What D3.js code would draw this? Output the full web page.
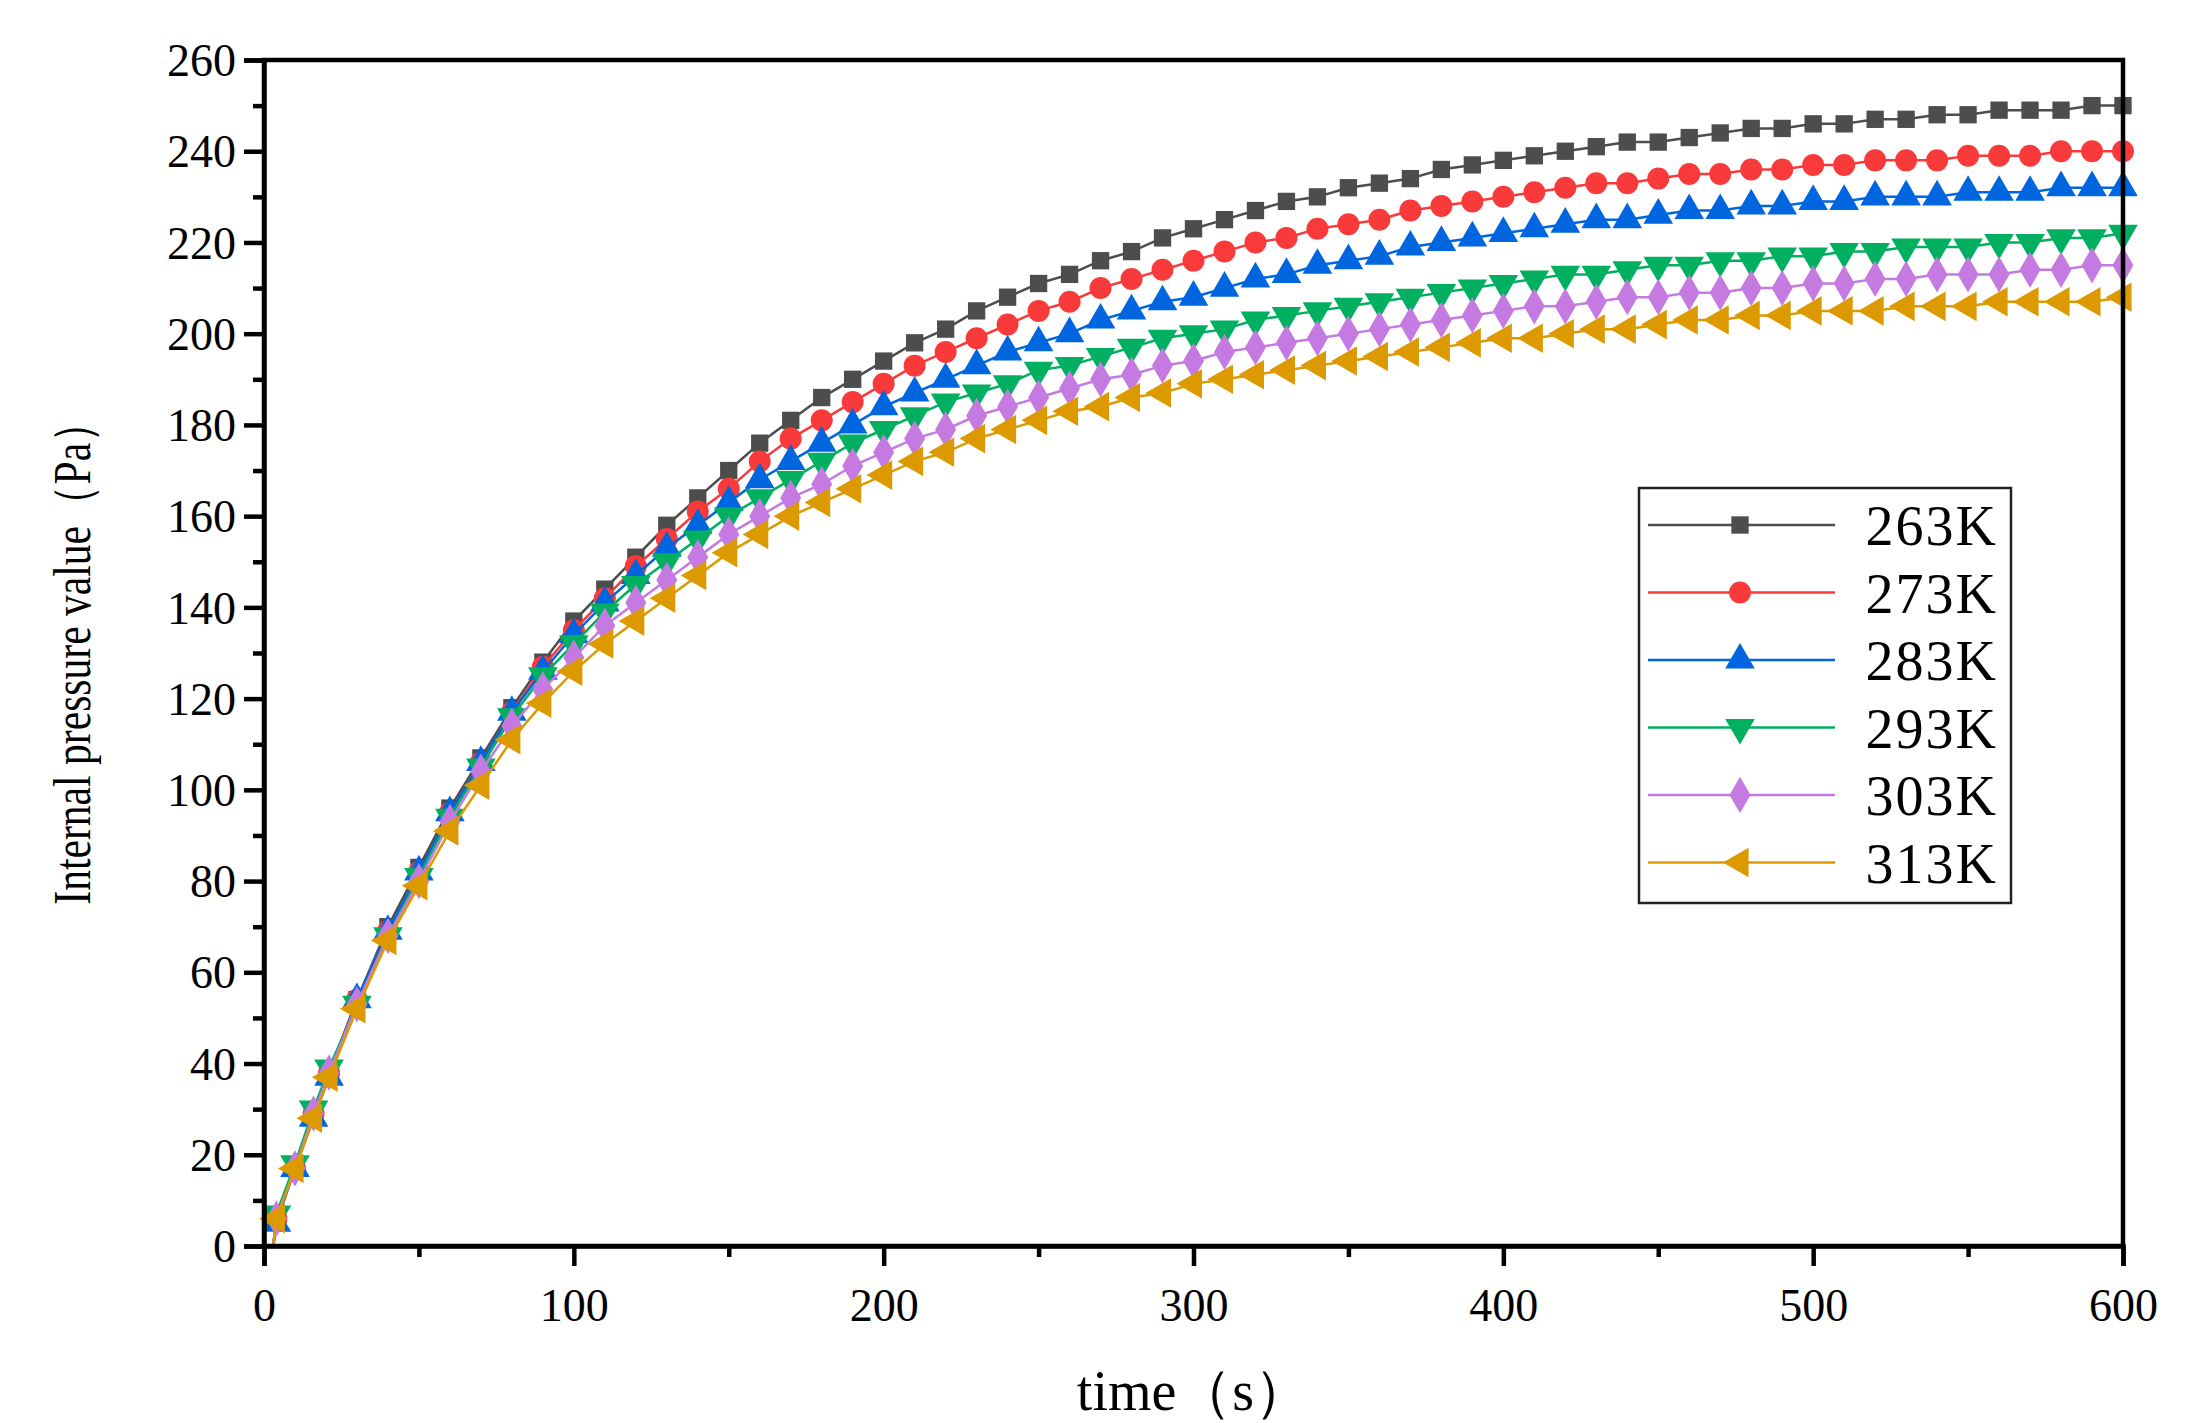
<!DOCTYPE html>
<html>
<head>
<meta charset="utf-8">
<script src="https://cdn.jsdelivr.net/npm/d3@7"></script>
<style>
  body { margin: 0; background: #fff; }
  text { font-family: "Liberation Serif", "DejaVu Serif", serif; }
</style>
</head>
<body>
<svg id="chart" width="2194" height="1423"></svg>
<script>
// time points (s)
var times = [4, 10, 16, 21, 30, 40, 50, 60, 70, 80, 90, 100, 110, 120, 130, 140, 150, 160, 170, 180,
  190, 200, 210, 220, 230, 240, 250, 260, 270, 280, 290, 300, 310, 320, 330, 340, 350, 360, 370, 380,
  390, 400, 410, 420, 430, 440, 450, 460, 470, 480, 490, 500, 510, 520, 530, 540, 550, 560, 570, 580, 590, 600];

var labels = ["263K", "273K", "283K", "293K", "303K", "313K"];
var colors = ["#4d4d4d", "#f83a3a", "#0066e0", "#00b060", "#c47ae0", "#dc9a00"];

var p263 = [6, 17, 29, 38,
  54, 70, 83, 96, 107, 118, 128, 137, 144, 151,
  158, 164, 170, 176, 181, 186, 190, 194, 198, 201,
  205, 208, 211, 213, 216, 218, 221, 223, 225, 227,
  229, 230, 232, 233, 234, 236, 237, 238, 239, 240,
  241, 242, 242, 243, 244, 245, 245, 246, 246, 247,
  247, 248, 248, 249, 249, 249, 250, 250];
var p273 = [6, 17, 29, 38,
  54, 69, 82, 95, 106, 117, 127, 135, 142, 149,
  155, 161, 166, 172, 177, 181, 185, 189, 193, 196,
  199, 202, 205, 207, 210, 212, 214, 216, 218, 220,
  221, 223, 224, 225, 227, 228, 229, 230, 231, 232,
  233, 233, 234, 235, 235, 236, 236, 237, 237, 238,
  238, 238, 239, 239, 239, 240, 240, 240];
var p283 = [5, 17, 28, 37,
  54, 69, 82, 95, 106, 117, 126, 134, 141, 147,
  153, 158, 163, 168, 172, 176, 180, 184, 187, 190,
  193, 196, 198, 200, 203, 205, 207, 208, 210, 212,
  213, 215, 216, 217, 219, 220, 221, 222, 223, 224,
  225, 225, 226, 227, 227, 228, 228, 229, 229, 230,
  230, 230, 231, 231, 231, 232, 232, 232];
var p293 = [7, 18, 30, 39,
  53, 68, 81, 94, 105, 116, 125, 132, 139, 145,
  150, 155, 160, 164, 168, 172, 176, 179, 182, 185,
  187, 189, 192, 193, 195, 197, 199, 200, 201, 203,
  204, 205, 206, 207, 208, 209, 210, 211, 212, 213,
  213, 214, 215, 215, 216, 216, 217, 217, 218, 218,
  219, 219, 219, 220, 220, 221, 221, 222];
var p303 = [6, 17, 29, 38,
  53, 68, 80, 93, 104, 114, 122, 129, 136, 141,
  146, 151, 156, 160, 164, 167, 171, 174, 177, 179,
  182, 184, 186, 188, 190, 191, 193, 194, 196, 197,
  198, 199, 200, 201, 202, 203, 204, 205, 206, 206,
  207, 208, 208, 209, 209, 210, 210, 211, 211, 212,
  212, 213, 213, 213, 214, 214, 215, 215];
var p313 = [6, 17, 28, 37,
  52, 67, 79, 91, 101, 111, 119, 126, 132, 137,
  142, 147, 152, 156, 160, 163, 166, 169, 172, 174,
  177, 179, 181, 183, 184, 186, 187, 189, 190, 191,
  192, 193, 194, 195, 196, 197, 198, 199, 199, 200,
  201, 201, 202, 203, 203, 204, 204, 205, 205, 205,
  206, 206, 206, 207, 207, 207, 207, 208];

var seriesValues = [p263, p273, p283, p293, p303, p313];
var xTicks = [0, 100, 200, 300, 400, 500, 600];
var yTicks = [0, 20, 40, 60, 80, 100, 120, 140, 160, 180, 200, 220, 240, 260];

var svg = d3.select("#chart");
var m = { left: 264, right: 2123, top: 60, bottom: 1246 };

var x = d3.scaleLinear().domain([0, 600]).range([m.left, m.right]);
var y = d3.scaleLinear().domain([0, 260]).range([m.bottom, m.top]);

// marker shapes: square, circle, up, down, diamond, left
var shapes = [
  { t: d3.symbolSquare, r: 0, s: 300 },
  { t: d3.symbolCircle, r: 0, s: 380 },
  { t: d3.symbolTriangle, r: 0, s: 380 },
  { t: d3.symbolTriangle, r: 180, s: 380 },
  { t: d3.symbolDiamond, r: 0, s: 380 },
  { t: d3.symbolTriangle, r: -90, s: 380 }
];

function drawMarker(g, i, cx, cy) {
  g.append("path")
    .attr("d", d3.symbol().type(shapes[i].t).size(shapes[i].s)())
    .attr("transform", "translate(" + cx + "," + cy + ") rotate(" + shapes[i].r + ")")
    .attr("fill", colors[i]);
}

// lines and markers
seriesValues.forEach(function(vals, i) {
  var pts = [[3, 0]].concat(times.map((t, k) => [t, vals[k]]));
  svg.append("path")
    .datum(pts)
    .attr("fill", "none")
    .attr("stroke", colors[i])
    .attr("stroke-width", 2.5)
    .attr("d", d3.line().x(d => x(d[0])).y(d => y(d[1])));
  var g = svg.append("g");
  times.forEach((t, k) => drawMarker(g, i, x(t), y(vals[k])));
});

// frame
svg.append("rect")
  .attr("x", m.left).attr("y", m.top)
  .attr("width", m.right - m.left).attr("height", m.bottom - m.top)
  .attr("fill", "none").attr("stroke", "#000").attr("stroke-width", 4.5);

// x axis
var xAxis = svg.append("g")
  .attr("transform", "translate(0," + m.bottom + ")")
  .call(d3.axisBottom(x).tickValues(xTicks).tickSize(20).tickPadding(14));
svg.append("g")
  .attr("transform", "translate(0," + m.bottom + ")")
  .call(d3.axisBottom(x).tickValues(d3.range(50, 600, 100)).tickSize(11).tickFormat(""))
  .select(".domain").remove();

// y axis
var yAxis = svg.append("g")
  .attr("transform", "translate(" + m.left + ",0)")
  .call(d3.axisLeft(y).tickValues(yTicks).tickSize(20).tickPadding(8));
svg.append("g")
  .attr("transform", "translate(" + m.left + ",0)")
  .call(d3.axisLeft(y).tickValues(d3.range(10, 260, 20)).tickSize(11).tickFormat(""))
  .select(".domain").remove();

svg.selectAll(".tick line").attr("stroke-width", 4.5);
svg.selectAll(".domain").attr("stroke-width", 4.5);
xAxis.selectAll("text").attr("font-size", 46).attr("font-family", "Liberation Serif").attr("dy", "0.9em");
yAxis.selectAll("text").attr("font-size", 46).attr("font-family", "Liberation Serif").attr("dy", "0.34em");

// axis titles
svg.append("text")
  .attr("x", (m.left + m.right) / 2).attr("y", 1410)
  .attr("text-anchor", "middle").attr("font-size", 56)
  .text("time（s）");
svg.append("text")
  .attr("transform", "translate(90," + (m.top + m.bottom) / 2 + ") rotate(-90) scale(0.8,1)")
  .attr("text-anchor", "middle").attr("font-size", 52)
  .text("Internal pressure value（Pa）");

// legend
var lg = svg.append("g");
lg.append("rect")
  .attr("x", 1639).attr("y", 488).attr("width", 372).attr("height", 415)
  .attr("fill", "#fff").attr("stroke", "#222").attr("stroke-width", 2.5);
labels.forEach(function(lab, i) {
  var cy = 525 + i * 67.5;
  lg.append("line")
    .attr("x1", 1648).attr("x2", 1835).attr("y1", cy).attr("y2", cy)
    .attr("stroke", colors[i]).attr("stroke-width", 2.5);
  drawMarker(lg, i, 1740, cy);
  lg.append("text")
    .attr("x", 1998).attr("y", cy).attr("dy", "0.36em")
    .attr("text-anchor", "end").attr("font-size", 56)
    .attr("letter-spacing", 2)
    .text(lab);
});
</script>
</body>
</html>
